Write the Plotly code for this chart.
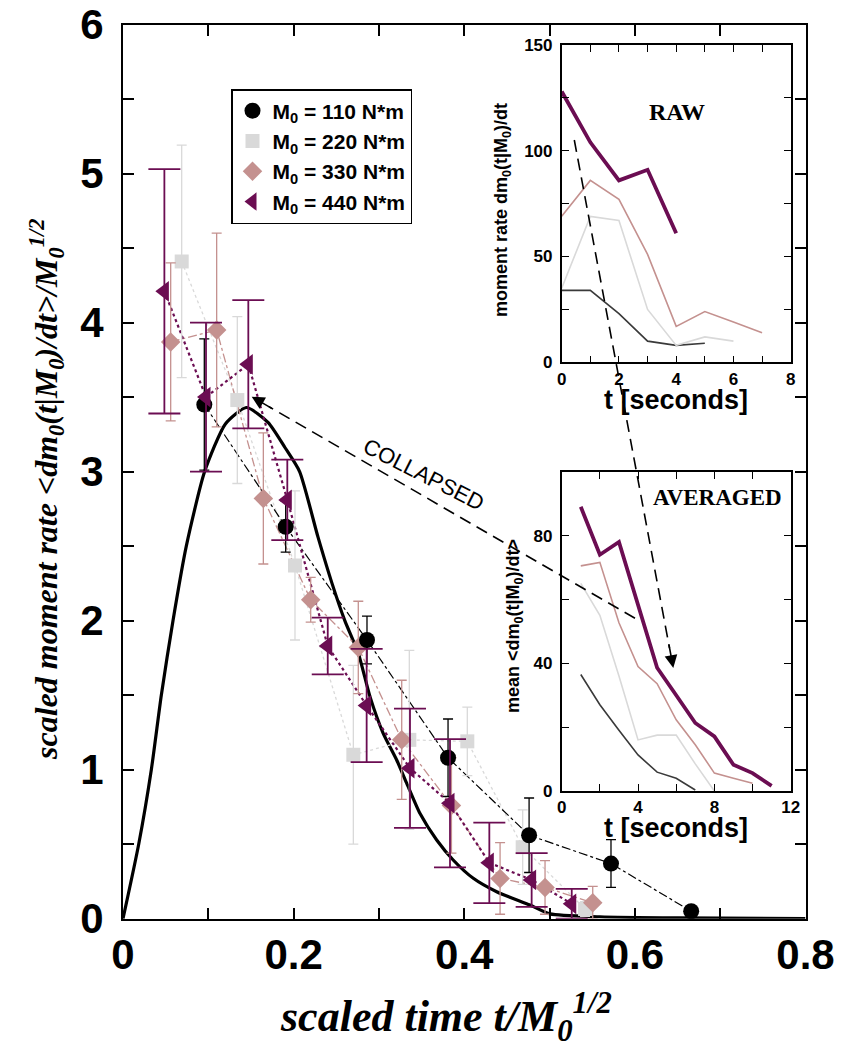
import plotly.graph_objects as go

# ---------------- data ----------------
# main panel: scaled time vs scaled moment rate
t110 = [0.0953, 0.1907, 0.2860, 0.3810, 0.4760, 0.5720, 0.6660]
r110 = [3.45, 2.63, 1.87, 1.08, 0.56, 0.37, 0.05]
e110 = [0.44, 0.17, 0.16, 0.26, 0.25, 0.16, 0.02]

t220 = [0.0688, 0.1340, 0.2016, 0.2700, 0.3356, 0.4036, 0.4685, 0.5416]
r220 = [4.41, 3.48, 2.37, 1.10, 1.20, 1.19, 0.48, 0.065]
e220 = [0.78, 0.56, 0.50, 0.60, 0.60, 0.23, 0.25, 0.05]

t330 = [0.0559, 0.1098, 0.1645, 0.2200, 0.2758, 0.3267, 0.3850, 0.4420, 0.4947, 0.5506]
r330 = [3.87, 3.95, 2.82, 2.14, 1.82, 1.20, 0.76, 0.27, 0.21, 0.107]
e330 = [0.53, 0.65, 0.44, 0.15, 0.31, 0.40, 0.32, 0.24, 0.18, 0.11]

t440 = [0.0485, 0.0973, 0.1469, 0.1926, 0.2400, 0.2856, 0.3364, 0.3833, 0.4294, 0.4790, 0.5260]
r440 = [4.21, 3.50, 3.72, 2.81, 1.83, 1.43, 1.01, 0.775, 0.375, 0.26, 0.10]
e440 = [0.82, 0.50, 0.43, 0.27, 0.19, 0.38, 0.40, 0.43, 0.27, 0.18, 0.10]

# collapsed model curve
curve_x = [0, 0.0184, 0.0332, 0.0449, 0.0586, 0.0742, 0.0957, 0.12, 0.1446, 0.17, 0.19,
           0.207, 0.2286, 0.245, 0.26, 0.2759, 0.2895, 0.305, 0.3208, 0.3325, 0.348,
           0.3677, 0.387, 0.4106, 0.438, 0.477, 0.5005, 0.559, 0.65, 0.8]
curve_y = [0, 0.5, 1.0, 1.5, 2.0, 2.5, 3.0, 3.32, 3.43, 3.33, 3.16,
           3.0, 2.56, 2.25, 2.0, 1.78, 1.49, 1.244, 1.065, 0.909, 0.707,
           0.528, 0.394, 0.271, 0.181, 0.092, 0.032, 0.013, 0.005, 0.0]

# RAW inset
raw_t110 = [0, 1, 2, 3, 4, 5]
raw_v110 = [34, 34, 23, 10, 8, 9]
raw_t220 = [0, 1, 2, 3, 4, 5, 6]
raw_v220 = [35, 69, 67, 25, 8, 12, 10]
raw_t330 = [0, 1, 2, 3, 4, 5, 6, 7]
raw_v330 = [69, 86, 77, 51, 17, 24, 19, 14]
raw_t440 = [0, 1, 2, 3, 4]
raw_v440 = [128, 104, 86, 91, 61]

# AVERAGED inset
avg_t110 = [1, 2, 3, 4, 5, 6, 7]
avg_v110 = [36.5, 27, 19, 11.3, 5.9, 4, 0.3]
avg_t220 = [1, 2, 3, 4, 5, 6, 7, 8]
avg_v220 = [65, 55, 36, 16, 17.5, 17.5, 8.5, 0]
avg_t330 = [1, 2, 3, 4, 5, 6, 7, 8, 9, 10]
avg_v330 = [70.5, 71.6, 52.7, 39, 33.6, 22.3, 14.5, 5.6, 4, 2.4]
avg_t440 = [1, 2, 3, 4, 5, 6, 7, 8, 9, 10, 11]
avg_v440 = [89, 74, 78, 58.5, 38.6, 30, 21.3, 17.1, 8.2, 5.6, 1.6]

# tick values / labels
main_xtickvals = [0, 0.1, 0.2, 0.3, 0.4, 0.5, 0.6, 0.7, 0.8]
main_xticktext = ["0", "", "0.2", "", "0.4", "", "0.6", "", "0.8"]
main_ytickvals = [0, 0.5, 1, 1.5, 2, 2.5, 3, 3.5, 4, 4.5, 5, 5.5, 6]
main_yticktext = ["0", "", "1", "", "2", "", "3", "", "4", "", "5", "", "6"]
raw_xtickvals = [0, 1, 2, 3, 4, 5, 6, 7, 8]
raw_xticktext = ["0", "", "2", "", "4", "", "6", "", "8"]
raw_ytickvals = [0, 25, 50, 75, 100, 125, 150]
raw_yticktext = ["0", "", "50", "", "100", "", "150"]
avg_xtickvals = [0, 2, 4, 6, 8, 10, 12]
avg_xticktext = ["0", "", "4", "", "8", "", "12"]
avg_ytickvals = [0, 20, 40, 60, 80, 100]
avg_yticktext = ["0", "", "40", "", "80", ""]

labels = ["M<sub>0</sub> = 110 N*m", "M<sub>0</sub> = 220 N*m",
          "M<sub>0</sub> = 330 N*m", "M<sub>0</sub> = 440 N*m"]

C110 = "#000000"
C220 = "#d9d9d9"
C330 = "#c4918f"
C440 = "#6b0d52"
C110_INSET = "#3a3a3a"

W, H = 842, 1053


def px(x):
    return x / W


def py(y):
    return 1 - y / H


fig = go.Figure()

SANS = "Liberation Sans, Arial, sans-serif"
SERIF = "Liberation Serif, Times New Roman, serif"

# ---------------- main panel ----------------
fig.add_trace(go.Scatter(x=curve_x, y=curve_y, mode="lines", line=dict(color="black", width=3.2, shape="spline", smoothing=0.6),
                         showlegend=False, hoverinfo="skip"))

series = [
    (t220, r220, e220, C220, "square", 14, 5, 1.3, "dot", 1.3, 2),
    (t330, r330, e330, C330, "diamond", 15, 5, 1.3, "dashdot", 1.3, 3),
    (t110, r110, e110, C110, "circle", 16, 5, 1.3, "dashdot", 1.2, 1),
    (t440, r440, e440, C440, "triangle-left", 18, 16, 1.8, "dot", 2.2, 4),
]
for (tx, ry, ey, col, sym, size, capw, thick, dash, lw, rank) in series:
    fig.add_trace(go.Scatter(x=tx, y=ry, mode="lines", line=dict(color=col, width=lw, dash=dash),
                             showlegend=False, hoverinfo="skip"))
for (tx, ry, ey, col, sym, size, capw, thick, dash, lw, rank) in series:
    fig.add_trace(go.Scatter(x=tx, y=ry, mode="markers", name=labels[rank - 1], legendrank=rank,
                             marker=dict(color=col, symbol=sym, size=size, line=dict(width=0)),
                             error_y=dict(type="data", array=ey, visible=True, color=col,
                                          thickness=thick, width=capw)))

# ---------------- RAW inset ----------------
for tx, vy, col, lw in [(raw_t110, raw_v110, C110_INSET, 1.6), (raw_t220, raw_v220, C220, 1.6),
                        (raw_t330, raw_v330, C330, 1.6), (raw_t440, raw_v440, C440, 3.8)]:
    fig.add_trace(go.Scatter(x=tx, y=vy, mode="lines", line=dict(color=col, width=lw),
                             xaxis="x2", yaxis="y2", showlegend=False, hoverinfo="skip"))

# ---------------- AVERAGED inset ----------------
for tx, vy, col, lw in [(avg_t110, avg_v110, C110_INSET, 1.6), (avg_t220, avg_v220, C220, 1.6),
                        (avg_t330, avg_v330, C330, 1.6), (avg_t440, avg_v440, C440, 3.8)]:
    fig.add_trace(go.Scatter(x=tx, y=vy, mode="lines", line=dict(color=col, width=lw),
                             xaxis="x3", yaxis="y3", showlegend=False, hoverinfo="skip"))

axis_common = dict(showgrid=False, zeroline=False, showline=True, linecolor="black", automargin=False,
                   mirror="allticks", ticks="inside", tickcolor="black")

fig.update_layout(
    width=W, height=H, margin=dict(l=0, r=0, t=0, b=0, pad=0, autoexpand=False),
    paper_bgcolor="white", plot_bgcolor="white",
    xaxis=dict(domain=[px(123), px(805.5)], range=[0, 0.8], tickmode="array",
               tickvals=main_xtickvals, ticktext=main_xticktext, ticklen=11, tickwidth=1.6,
               linewidth=2, tickfont=dict(family=SANS, size=42, color="black", weight="bold"),
               ticklabelstandoff=-2, anchor="y", **axis_common),
    yaxis=dict(domain=[py(918.7), py(24.5)], range=[0, 6], tickmode="array",
               tickvals=main_ytickvals, ticktext=main_yticktext, ticklen=11, tickwidth=1.6,
               linewidth=2, tickfont=dict(family=SANS, size=42, color="black", weight="bold"),
               ticklabelstandoff=9, anchor="x", **axis_common),
    xaxis2=dict(domain=[px(561.7), px(790.7)], range=[0, 8], tickmode="array",
                tickvals=raw_xtickvals, ticktext=raw_xticktext, ticklen=7, tickwidth=1.3,
                linewidth=1.6, tickfont=dict(family=SANS, size=17, color="black", weight="bold"),
                ticklabelstandoff=0, anchor="y2", **axis_common),
    yaxis2=dict(domain=[py(362.3), py(45)], range=[0, 150], tickmode="array",
                tickvals=raw_ytickvals, ticktext=raw_yticktext, ticklen=7, tickwidth=1.3,
                linewidth=1.6, tickfont=dict(family=SANS, size=17, color="black", weight="bold"),
                ticklabelstandoff=4, anchor="x2", **axis_common),
    xaxis3=dict(domain=[px(561.7), px(790.7)], range=[0, 12], tickmode="array",
                tickvals=avg_xtickvals, ticktext=avg_xticktext, ticklen=7, tickwidth=1.3,
                linewidth=1.6, tickfont=dict(family=SANS, size=17, color="black", weight="bold"),
                ticklabelstandoff=0, anchor="y3", **axis_common),
    yaxis3=dict(domain=[py(791), py(471.7)], range=[0, 100], tickmode="array",
                tickvals=avg_ytickvals, ticktext=avg_yticktext, ticklen=7, tickwidth=1.3,
                linewidth=1.6, tickfont=dict(family=SANS, size=17, color="black", weight="bold"),
                ticklabelstandoff=4, anchor="x3", **axis_common),
    legend=dict(x=px(231), y=py(89), xanchor="left", yanchor="top", bgcolor="white",
                bordercolor="black", borderwidth=1.5, tracegroupgap=0, itemwidth=30,
                font=dict(family=SANS, size=21, color="black", weight="bold")),
)

# ---------------- dashed arrows ----------------
dash_line = dict(color="black", width=1.6, dash="12px,7px")
# RAW -> AVERAGED
fig.add_shape(type="line", xref="paper", yref="paper", x0=px(574.3), y0=py(140), x1=px(669.5), y1=py(648),
              line=dash_line, layer="above")
fig.add_annotation(xref="paper", yref="paper", x=px(673.3), y=py(668), ax=-4.6, ay=-24.6, text="",
                   showarrow=True, arrowhead=2, arrowsize=1.6, arrowwidth=1.6, arrowcolor="black")
# AVERAGED -> collapsed peak
fig.add_shape(type="line", xref="paper", yref="paper", x0=px(635), y0=py(618.3), x1=px(269), y1=py(406.7),
              line=dash_line, layer="above")
fig.add_annotation(xref="paper", yref="paper", x=px(251.7), y=py(396.7), ax=21.6, ay=12.5, text="",
                   showarrow=True, arrowhead=2, arrowsize=1.6, arrowwidth=1.6, arrowcolor="black")

# ---------------- text ----------------
def label(x, y, text, font, angle=0):
    fig.add_annotation(xref="paper", yref="paper", x=px(x), y=py(y), text=text, showarrow=False,
                       xanchor="center", yanchor="middle", textangle=angle, font=font)


label(424, 474, "COLLAPSED", dict(family=SANS, size=22, color="black"), 27)
label(677, 112, "RAW", dict(family=SERIF, size=24, color="black", weight="bold"))
label(717, 498, "AVERAGED", dict(family=SERIF, size=23, color="black", weight="bold"))
label(46, 490, "scaled moment rate &lt;dm<sub>0</sub>(t|M<sub>0</sub>)/dt&gt;/M<sub>0</sub><sup>1/2</sup>",
      dict(family=SERIF, size=32, color="black", weight="bold", style="italic"), -90)
label(446, 1017, "scaled time t/M<sub>0</sub><sup>1/2</sup>",
      dict(family=SERIF, size=44, color="black", weight="bold", style="italic"))
label(502, 210, "moment rate dm<sub>0</sub>(t|M<sub>0</sub>)/dt",
      dict(family=SANS, size=18, color="black", weight="bold"), -90)
label(514, 626, "mean &lt;dm<sub>0</sub>(t|M<sub>0</sub>)/dt&gt;",
      dict(family=SANS, size=18, color="black", weight="bold"), -90)
label(676, 400, "t [seconds]", dict(family=SANS, size=27, color="black", weight="bold"))
label(676, 828, "t [seconds]", dict(family=SANS, size=27, color="black", weight="bold"))

fig.write_html("out.html")
